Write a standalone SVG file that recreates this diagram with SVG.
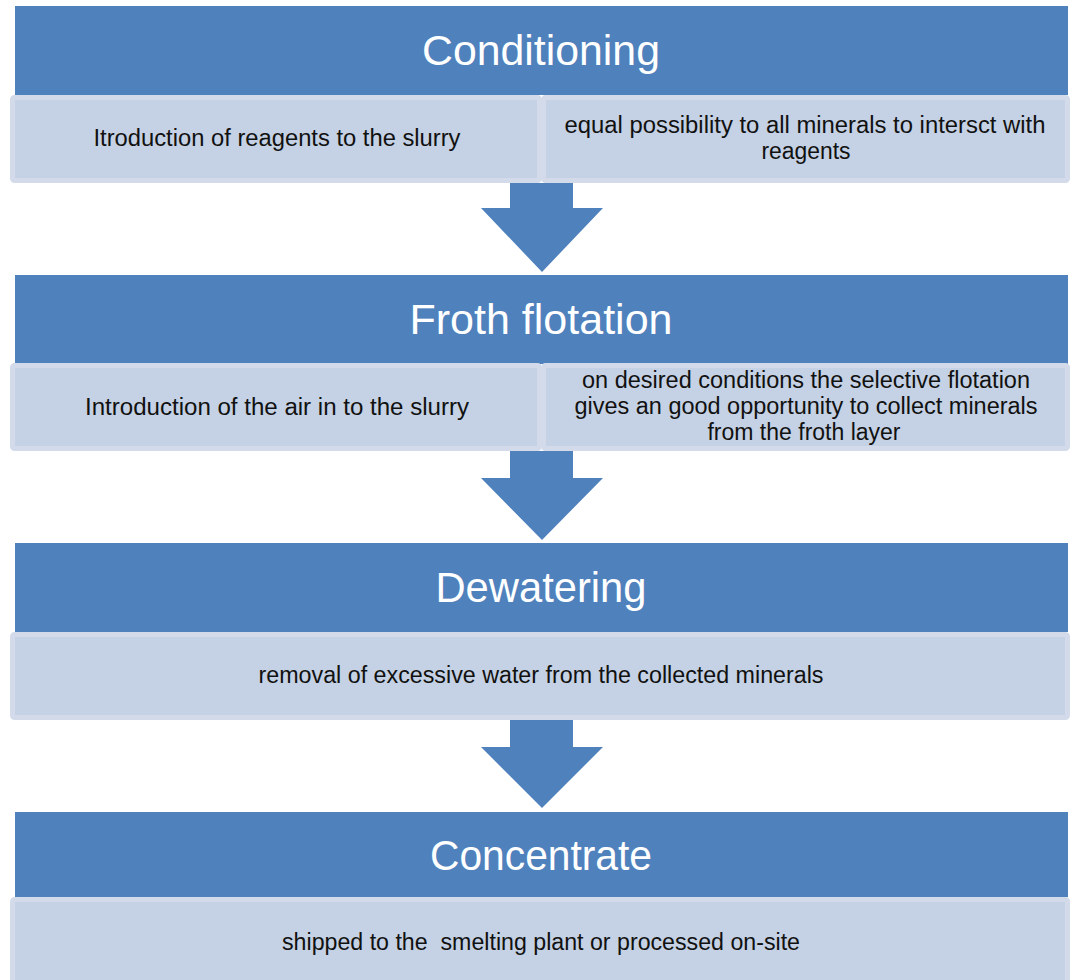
<svg xmlns="http://www.w3.org/2000/svg" width="1072" height="980" viewBox="0 0 1072 980">
<style>
.hdr{fill:#4f81bd}
.cell{fill:#c5d1e4;stroke:#d3dbea;stroke-width:5}
.arrow{fill:#4f81bd}
.ht{font-family:"Liberation Sans",Arial,sans-serif;font-size:42px;fill:#ffffff;text-anchor:middle}
.bt{font-family:"Liberation Sans",Arial,sans-serif;font-size:23px;fill:#111111;text-anchor:middle;white-space:pre}
</style>
<rect width="1072" height="980" fill="#ffffff"/>
<g id="connectors">
<path class="arrow" d="M510,183 H573 V208 H603 L542,272 L481,208 H510 Z"/>
<path class="arrow" d="M510,451 H573 V478 H603 L542,540 L481,478 H510 Z"/>
<path class="arrow" d="M510,720 H573 V747 H603 L542,808 L481,747 H510 Z"/>
</g>
<g id="conditioning">
<rect class="hdr" x="15" y="6" width="1053" height="89"/>
<text class="ht" x="541" y="65" textLength="238" lengthAdjust="spacingAndGlyphs">Conditioning</text>
<rect class="cell" x="12.5" y="97.5" width="527" height="83" rx="2"/>
<rect class="cell" x="543.5" y="97.5" width="524" height="83" rx="2"/>
<text class="bt" x="277" y="146" textLength="367" lengthAdjust="spacingAndGlyphs">Itroduction of reagents to the slurry</text>
<text class="bt" x="805" y="133" textLength="481" lengthAdjust="spacingAndGlyphs">equal possibility to all minerals to intersct with</text>
<text class="bt" x="806" y="159" textLength="89" lengthAdjust="spacingAndGlyphs">reagents</text>
</g>
<g id="froth-flotation">
<rect class="hdr" x="15" y="275" width="1053" height="89"/>
<text class="ht" x="541" y="334" textLength="263" lengthAdjust="spacingAndGlyphs">Froth flotation</text>
<rect class="cell" x="12.5" y="365.5" width="527" height="83" rx="2"/>
<rect class="cell" x="543.5" y="365.5" width="524" height="83" rx="2"/>
<text class="bt" x="277" y="415" textLength="384" lengthAdjust="spacingAndGlyphs">Introduction of the air in to the slurry</text>
<text class="bt" x="806" y="388" textLength="448" lengthAdjust="spacingAndGlyphs">on desired conditions the selective flotation</text>
<text class="bt" x="806" y="414" textLength="463" lengthAdjust="spacingAndGlyphs">gives an good opportunity to collect minerals</text>
<text class="bt" x="804" y="440">from the froth layer</text>
</g>
<g id="dewatering">
<rect class="hdr" x="15" y="543" width="1053" height="89"/>
<text class="ht" x="541" y="602" textLength="211" lengthAdjust="spacingAndGlyphs">Dewatering</text>
<rect class="cell" x="12.5" y="634.5" width="1055" height="83" rx="2"/>
<text class="bt" x="541" y="683" textLength="565" lengthAdjust="spacingAndGlyphs">removal of excessive water from the collected minerals</text>
</g>
<g id="concentrate">
<rect class="hdr" x="15" y="812" width="1053" height="85"/>
<text class="ht" x="541" y="870" textLength="222" lengthAdjust="spacingAndGlyphs">Concentrate</text>
<rect class="cell" x="12.5" y="899.5" width="1055" height="90" rx="2"/>
<text class="bt" x="541" y="950" textLength="518" lengthAdjust="spacingAndGlyphs">shipped to the  smelting plant or processed on-site</text>
</g>
</svg>
